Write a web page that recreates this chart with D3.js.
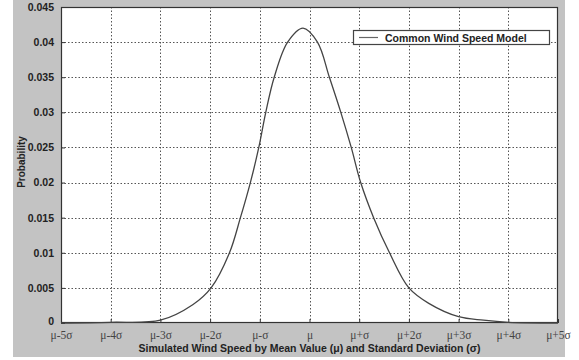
<!DOCTYPE html>
<html>
<head>
<meta charset="utf-8">
<script src="https://cdn.jsdelivr.net/npm/d3@7"></script>
<style>
  body { margin: 0; background: #fff; }
  svg { display: block; }
</style>
</head>
<body>
<svg width="579" height="360"></svg>
<script>
// curve: x in units of sigma from the mean
const sigmaPos = [-5, -4, -3, -2.35, -1.98, -1.61, -1.39, -1.19, -1.02, -0.88, -0.71, -0.44, -0.13,
                  0.16, 0.4, 0.63, 0.84, 1.03, 1.29, 1.61, 2.0, 2.4, 3, 3.5, 4, 5];
const prob = [0, 0.0001, 0.0004, 0.0026, 0.005, 0.01, 0.015, 0.02, 0.025, 0.03, 0.035, 0.04, 0.042,
              0.04, 0.035, 0.03, 0.025, 0.02, 0.015, 0.01, 0.005, 0.0028, 0.0009, 0.0004, 0.0001, 0];
const xTicks = [-5, -4, -3, -2, -1, 0, 1, 2, 3, 4, 5];
const xTickLabels = ["μ-5σ", "μ-4σ", "μ-3σ", "μ-2σ", "μ-σ", "μ", "μ+σ", "μ+2σ", "μ+3σ", "μ+4σ", "μ+5σ"];
const yTicks = [0, 0.005, 0.01, 0.015, 0.02, 0.025, 0.03, 0.035, 0.04, 0.045];
const yTickLabels = ["0", "0.005", "0.01", "0.015", "0.02", "0.025", "0.03", "0.035", "0.04", "0.045"];
const seriesName = "Common Wind Speed Model";

const svg = d3.select("svg");
const margin = { left: 61, top: 7, right: 558, bottom: 323 };

// gray figure background
svg.append("rect")
    .attr("x", 13).attr("y", 0)
    .attr("width", 552).attr("height", 357)
    .attr("fill", "#c3c3c3");

const x = d3.scaleLinear().domain([-5, 5]).range([margin.left, margin.right]);
const y = d3.scaleLinear().domain([0, 0.045]).range([margin.bottom, margin.top]);

svg.append("rect")
    .attr("x", margin.left).attr("y", margin.top)
    .attr("width", margin.right - margin.left)
    .attr("height", margin.bottom - margin.top)
    .attr("fill", "#fff");

// grid
const grid = svg.append("g")
    .attr("stroke", "#555")
    .attr("stroke-width", 1)
    .attr("stroke-dasharray", "1.5,2");
grid.selectAll(".gx").data(xTicks.slice(1, -1)).enter().append("line")
    .attr("x1", d => Math.round(x(d)) + 0.5).attr("x2", d => Math.round(x(d)) + 0.5)
    .attr("y1", margin.top).attr("y2", margin.bottom);
grid.selectAll(".gy").data(yTicks.slice(1, -1)).enter().append("line")
    .attr("y1", d => Math.round(y(d)) + 0.5).attr("y2", d => Math.round(y(d)) + 0.5)
    .attr("x1", margin.left).attr("x2", margin.right);

// axes
const xAxis = svg.append("g")
    .attr("transform", `translate(0,${margin.bottom})`)
    .call(d3.axisBottom(x).tickValues(xTicks).tickSize(-4).tickPadding(8)
        .tickFormat((d, i) => xTickLabels[i]));
xAxis.selectAll("text")
    .attr("font-family", "'Liberation Serif', 'DejaVu Serif', serif")
    .attr("font-size", 11.5).attr("fill", "#444");

const yAxis = svg.append("g")
    .attr("transform", `translate(${margin.left},0)`)
    .call(d3.axisLeft(y).tickValues(yTicks).tickSize(-4).tickPadding(7)
        .tickFormat((d, i) => yTickLabels[i]));
yAxis.selectAll("text")
    .attr("font-family", "'Liberation Sans', Arial, sans-serif")
    .attr("font-weight", "bold")
    .attr("font-size", 10.5).attr("fill", "#222");
// lift the "0" a touch so it clears the first x label
yAxis.selectAll("text").filter(d => d === 0).attr("dy", "0.1em");

svg.selectAll(".domain").remove();
svg.selectAll(".tick line").attr("stroke", "#333");

// frame
svg.append("rect")
    .attr("x", margin.left + 0.5).attr("y", margin.top + 0.5)
    .attr("width", margin.right - margin.left - 1)
    .attr("height", margin.bottom - margin.top - 1)
    .attr("fill", "none").attr("stroke", "#333").attr("stroke-width", 1.2);

// curve
const pts = sigmaPos.map((s, i) => [s, prob[i]]);
svg.append("path")
    .datum(pts)
    .attr("fill", "none")
    .attr("stroke", "#444")
    .attr("stroke-width", 1.3)
    .attr("d", d3.line().x(d => x(d[0])).y(d => y(d[1])).curve(d3.curveCatmullRom.alpha(0.5)));

// legend
const leg = svg.append("g");
leg.append("rect")
    .attr("x", 353.5).attr("y", 30.5).attr("width", 196).attr("height", 14)
    .attr("fill", "#fff").attr("stroke", "#444").attr("stroke-width", 1.2);
leg.append("line")
    .attr("x1", 359).attr("x2", 378).attr("y1", 37.5).attr("y2", 37.5)
    .attr("stroke", "#666").attr("stroke-width", 1.2);
leg.append("text")
    .attr("x", 385).attr("y", 41.5)
    .attr("font-family", "'Liberation Sans', Arial, sans-serif")
    .attr("font-weight", "bold").attr("font-size", 10.5).attr("fill", "#222")
    .text(seriesName);

// axis titles
svg.append("text")
    .attr("x", (margin.left + margin.right) / 2).attr("y", 352)
    .attr("text-anchor", "middle")
    .attr("font-family", "'Liberation Sans', Arial, sans-serif")
    .attr("font-weight", "bold").attr("font-size", 10.5).attr("fill", "#222")
    .text("Simulated Wind Speed by Mean Value (μ) and Standard Deviation (σ)");

svg.append("text")
    .attr("transform", "translate(25,162) rotate(-90)")
    .attr("text-anchor", "middle")
    .attr("font-family", "'Liberation Sans', Arial, sans-serif")
    .attr("font-weight", "bold").attr("font-size", 10).attr("fill", "#222")
    .text("Probability");
</script>
</body>
</html>
